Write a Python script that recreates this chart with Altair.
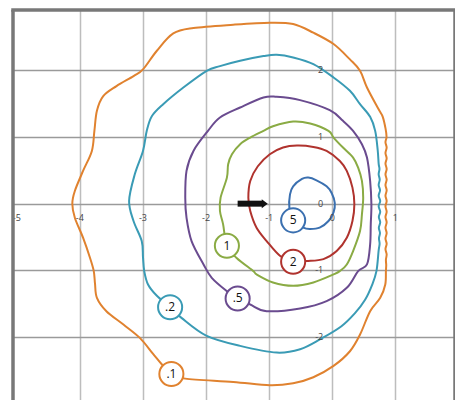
import altair as alt
import pandas as pd

# ---------------- data ----------------
LEVELS = [".1", ".2", ".5", "1", "2", "5"]
COLORS = ["#e0822f", "#3a9bb5", "#6a4b8f", "#8aab44", "#b0332e", "#3b70b0"]

C_01 = [(-4.12, 0.0), (-4.08, 0.19), (-3.95, 0.49), (-3.81, 0.79), (-3.77, 1.09), (-3.73, 1.39),
        (-3.63, 1.61), (-3.42, 1.76), (-3.15, 1.91), (-3.0, 2.01), (-2.78, 2.29), (-2.52, 2.55),
        (-2.20, 2.63), (-1.57, 2.68), (-0.99, 2.71), (-0.62, 2.69), (-0.30, 2.56), (0.02, 2.39),
        (0.28, 2.16), (0.44, 1.99), (0.55, 1.74), (0.73, 1.42), (0.80, 1.30), (0.845, 1.12),
        (0.86, 1.00), (0.843, 0.92), (0.862, 0.84), (0.843, 0.76), (0.862, 0.68), (0.843, 0.60),
        (0.862, 0.52), (0.843, 0.44), (0.862, 0.36), (0.843, 0.28), (0.862, 0.20), (0.843, 0.12),
        (0.862, 0.04), (0.843, -0.04), (0.862, -0.12), (0.843, -0.20), (0.862, -0.28), (0.843, -0.36),
        (0.862, -0.44), (0.843, -0.52), (0.862, -0.60), (0.843, -0.68), (0.862, -0.76), (0.85, -0.84),
        (0.855, -0.92), (0.85, -1.01), (0.84, -1.21), (0.76, -1.41), (0.60, -1.61), (0.44, -1.96),
        (0.28, -2.21), (0.02, -2.43), (-0.30, -2.60), (-0.62, -2.69), (-0.99, -2.72), (-1.57, -2.67),
        (-2.33, -2.62), (-2.55, -2.55), (-2.68, -2.43), (-2.84, -2.25), (-3.05, -2.01), (-3.31, -1.81),
        (-3.58, -1.61), (-3.73, -1.41), (-3.76, -1.20), (-3.78, -1.01), (-3.84, -0.81), (-3.95, -0.51),
        (-4.08, -0.21)]

C_02 = [(-3.22, 0.04), (-3.13, 0.44), (-3.0, 0.79), (-2.94, 1.09), (-2.86, 1.31), (-2.68, 1.49),
        (-2.36, 1.74), (-1.99, 1.99), (-1.78, 2.06), (-1.46, 2.14), (-1.09, 2.21), (-0.88, 2.23),
        (-0.62, 2.19), (-0.30, 2.09), (0.02, 1.89), (0.28, 1.69), (0.44, 1.49), (0.60, 1.30),
        (0.68, 1.09), (0.72, 0.80), (0.735, 0.60), (0.748, 0.52), (0.735, 0.44), (0.752, 0.36),
        (0.735, 0.28), (0.757, 0.20), (0.735, 0.12), (0.76, 0.04), (0.735, -0.04), (0.76, -0.12),
        (0.738, -0.20), (0.76, -0.28), (0.738, -0.36), (0.756, -0.44), (0.74, -0.52), (0.75, -0.60),
        (0.735, -0.70), (0.70, -1.01), (0.63, -1.22), (0.52, -1.44), (0.36, -1.64), (0.14, -1.84),
        (-0.19, -2.03), (-0.51, -2.18), (-0.88, -2.23), (-1.46, -2.13), (-1.99, -1.98), (-2.39, -1.71),
        (-2.57, -1.55), (-2.78, -1.38), (-2.92, -1.21), (-2.98, -1.01), (-3.0, -0.80), (-3.02, -0.56),
        (-3.15, -0.26)]

C_05 = [(-2.33, 0.09), (-2.31, 0.49), (-2.20, 0.79), (-1.97, 1.09), (-1.78, 1.29), (-1.46, 1.44),
        (-1.09, 1.59), (-0.88, 1.60), (-0.51, 1.55), (-0.04, 1.40), (0.17, 1.24), (0.33, 1.09),
        (0.47, 0.89), (0.55, 0.69), (0.60, 0.34), (0.62, -0.01), (0.61, -0.31), (0.60, -0.61),
        (0.55, -0.91), (0.41, -1.01), (0.23, -1.26), (-0.09, -1.46), (-0.51, -1.57), (-1.04, -1.61),
        (-1.30, -1.51), (-1.50, -1.42), (-1.67, -1.31), (-1.91, -1.11), (-2.04, -0.91), (-2.23, -0.56),
        (-2.31, -0.21)]

C_1 = [(-1.77, 0.09), (-1.67, 0.39), (-1.65, 0.59), (-1.59, 0.74), (-1.46, 0.89), (-1.30, 0.99),
       (-1.09, 1.09), (-0.94, 1.16), (-0.62, 1.23), (-0.35, 1.20), (-0.06, 1.09), (0.02, 0.99),
       (0.17, 0.84), (0.33, 0.69), (0.41, 0.54), (0.47, 0.34), (0.49, 0.09), (0.47, -0.16),
       (0.44, -0.41), (0.33, -0.71), (0.23, -0.91), (0.12, -1.01), (0.02, -1.06), (-0.30, -1.18),
       (-0.62, -1.23), (-0.94, -1.18), (-1.20, -1.06), (-1.25, -1.01), (-1.52, -0.81), (-1.67, -0.63),
       (-1.73, -0.31), (-1.78, -0.11)]

C_2 = [(-1.33, 0.09), (-1.30, 0.34), (-1.18, 0.56), (-0.99, 0.74), (-0.78, 0.84), (-0.56, 0.87),
       (-0.30, 0.85), (-0.09, 0.79), (0.12, 0.64), (0.23, 0.49), (0.32, 0.24), (0.35, -0.01),
       (0.32, -0.26), (0.23, -0.51), (0.07, -0.71), (-0.14, -0.83), (-0.41, -0.86), (-0.62, -0.87),
       (-0.83, -0.78), (-1.04, -0.56), (-1.20, -0.36), (-1.30, -0.11)]

C_5 = [(-0.62, -0.25), (-0.68, -0.06), (-0.67, 0.14), (-0.62, 0.26), (-0.48, 0.37), (-0.38, 0.39),
       (-0.25, 0.35), (-0.09, 0.26), (-0.01, 0.16), (0.04, 0.01), (0.02, -0.13), (-0.06, -0.26),
       (-0.20, -0.36), (-0.35, -0.38), (-0.46, -0.36)]

CURVES = [C_01, C_02, C_05, C_1, C_2, C_5]

LABEL_X = [-2.55, -2.57, -1.50, -1.67, -0.62, -0.62]
LABEL_Y = [-2.55, -1.55, -1.42, -0.63, -0.87, -0.25]

XTICKS = [-5, -4, -3, -2, -1, 0, 1]
YTICKS = [2, 1, 0, -1, -2]
XGRID = [-4, -3, -2, -1, 0, 1]
YGRID = [-2, -1, 0, 1, 2]

X_DOMAIN = [-5.06, 1.945]
Y_DOMAIN = [-3.0, 2.9]

ARROW_X = [-1.50]
ARROW_X2 = [-1.11]
ARROW_HEAD_X = [-1.07]
ARROW_Y = [0.0]

# ---------------- tables ----------------
rows = []
for lvl, pts in zip(LEVELS, CURVES):
    for i, (x, y) in enumerate(pts):
        rows.append({"level": lvl, "i": i, "x": x, "y": y})
curves = pd.DataFrame(rows)
labels = pd.DataFrame({"level": LEVELS, "x": LABEL_X, "y": LABEL_Y})
xlab = pd.DataFrame({"x": XTICKS, "y": [0] * len(XTICKS), "t": [str(v) for v in XTICKS]})
ylab = pd.DataFrame({"x": [0] * len(YTICKS), "y": YTICKS, "t": [str(v) for v in YTICKS]})
arrow = pd.DataFrame({"x": ARROW_X, "x2": ARROW_X2, "y": ARROW_Y})
head = pd.DataFrame({"x": ARROW_HEAD_X, "y": ARROW_Y})
vframe = pd.DataFrame({"x": X_DOMAIN, "y": [Y_DOMAIN[0]] * 2, "y2": [Y_DOMAIN[1]] * 2})
hframe = pd.DataFrame({"x": [X_DOMAIN[0]], "x2": [X_DOMAIN[1]], "y": [Y_DOMAIN[1]]})

xs = alt.Scale(domain=X_DOMAIN, nice=False, zero=False)
ys = alt.Scale(domain=Y_DOMAIN, nice=False, zero=False)
col = alt.Scale(domain=LEVELS, range=COLORS)

xaxis = alt.Axis(values=XGRID, grid=True, gridColor="#bdbdbd", gridWidth=1.5,
                 labels=False, ticks=False, domain=False, title=None)
yaxis = alt.Axis(values=YGRID, grid=True, gridColor="#9a9a9a", gridWidth=1.5,
                 labels=False, ticks=False, domain=False, title=None)

lines = alt.Chart(curves).mark_line(interpolate="cardinal-closed", strokeWidth=2).encode(
    x=alt.X("x:Q", scale=xs, axis=xaxis),
    y=alt.Y("y:Q", scale=ys, axis=yaxis),
    color=alt.Color("level:N", scale=col, legend=None),
    detail="level:N",
    order="i:Q",
)

xtext = alt.Chart(xlab).mark_text(fontSize=9, font="Open Sans", color="#444", dy=14,
                                  baseline="middle", clip=True).encode(
    x=alt.X("x:Q", scale=xs), y=alt.Y("y:Q", scale=ys), text="t:N")

ytext = alt.Chart(ylab).mark_text(fontSize=9, font="Open Sans", color="#444", dx=-9,
                                  align="right", baseline="middle").encode(
    x=alt.X("x:Q", scale=xs), y=alt.Y("y:Q", scale=ys), text="t:N")

shaft = alt.Chart(arrow).mark_rule(strokeWidth=6, color="#111", strokeCap="butt").encode(
    x=alt.X("x:Q", scale=xs), x2="x2:Q", y=alt.Y("y:Q", scale=ys))

tip = alt.Chart(head).mark_point(shape="M-1,-1.5L1,0L-1,1.5Z", filled=True, color="#111",
                                 size=36, opacity=1).encode(
    x=alt.X("x:Q", scale=xs), y=alt.Y("y:Q", scale=ys))

circles = alt.Chart(labels).mark_point(shape="circle", fill="white", fillOpacity=1,
                                       strokeWidth=2, size=580, opacity=1).encode(
    x=alt.X("x:Q", scale=xs), y=alt.Y("y:Q", scale=ys),
    stroke=alt.Stroke("level:N", scale=col, legend=None))

ctext = alt.Chart(labels).mark_text(fontSize=12, font="Open Sans", color="#111",
                                    baseline="middle").encode(
    x=alt.X("x:Q", scale=xs), y=alt.Y("y:Q", scale=ys), text="level:N")

frame_v = alt.Chart(vframe).mark_rule(strokeWidth=3.5, color="#787878").encode(
    x=alt.X("x:Q", scale=xs), y=alt.Y("y:Q", scale=ys), y2="y2:Q")
frame_h = alt.Chart(hframe).mark_rule(strokeWidth=3.5, color="#787878", strokeCap="square").encode(
    x=alt.X("x:Q", scale=xs), x2="x2:Q", y=alt.Y("y:Q", scale=ys))

chart = alt.layer(lines, xtext, ytext, shaft, tip, circles, ctext, frame_v, frame_h).properties(
    width=442, height=394,
    autosize=alt.AutoSizeParams(type="none"),
    padding={"left": 5, "top": 2, "right": 0, "bottom": 0},
).configure_view(strokeWidth=0).resolve_scale(color="shared")

chart.save("out.html", embed_options={"renderer": "svg", "actions": False})
